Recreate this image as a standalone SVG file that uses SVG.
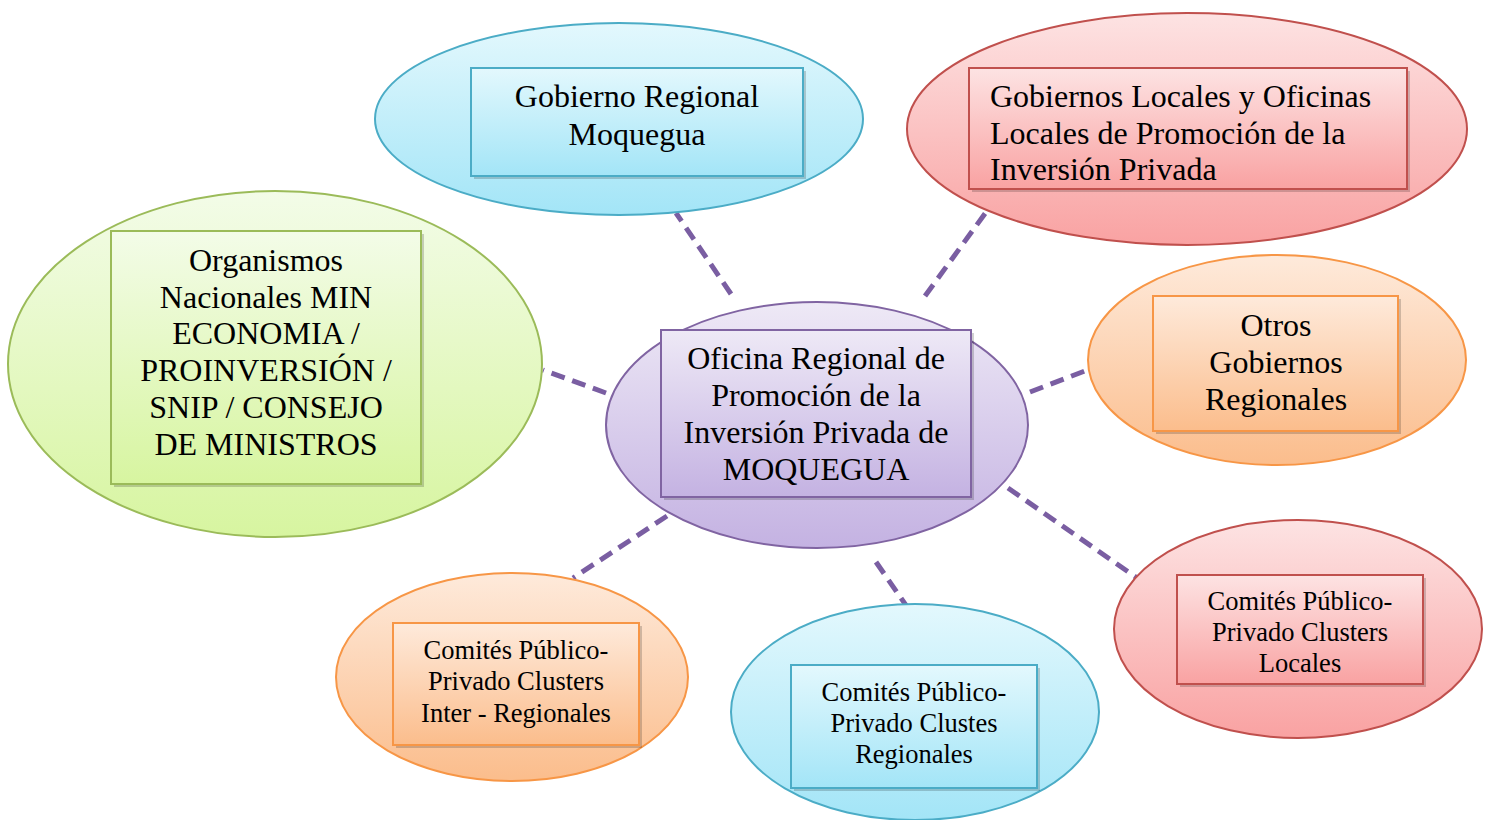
<svg xmlns="http://www.w3.org/2000/svg" width="1491" height="820" viewBox="0 0 1491 820">
<defs>
<linearGradient id="gBlue" x1="0" y1="0" x2="0" y2="1"><stop offset="0" stop-color="#e3f8fd"/><stop offset="1" stop-color="#a3e5f7"/></linearGradient>
<linearGradient id="gRed" x1="0" y1="0" x2="0" y2="1"><stop offset="0" stop-color="#fde3e3"/><stop offset="1" stop-color="#f9a2a2"/></linearGradient>
<linearGradient id="gGreen" x1="0" y1="0" x2="0" y2="1"><stop offset="0" stop-color="#f3fce8"/><stop offset="1" stop-color="#d7f5a0"/></linearGradient>
<linearGradient id="gOrange" x1="0" y1="0" x2="0" y2="1"><stop offset="0" stop-color="#feeadb"/><stop offset="1" stop-color="#fbbd8c"/></linearGradient>
<linearGradient id="gPurple" x1="0" y1="0" x2="0" y2="1"><stop offset="0" stop-color="#eee9f6"/><stop offset="1" stop-color="#c4b2e2"/></linearGradient>
</defs>
<style>
.e{stroke-width:2}
.r{stroke-width:2}
.sh{fill:#000;opacity:0.18}
.blue{fill:url(#gBlue);stroke:#4bacc6}
.red{fill:url(#gRed);stroke:#c0504d}
.green{fill:url(#gGreen);stroke:#9bbb59}
.orange{fill:url(#gOrange);stroke:#f79646}
.purple{fill:url(#gPurple);stroke:#8064a2}
text{font-family:"Liberation Serif","Times New Roman",serif;fill:#000}
.t31{font-size:32px;text-anchor:middle}
.t31l{font-size:32px}
.t26{font-size:26.5px;text-anchor:middle}
.c{stroke:#7a5ea2;stroke-width:5;stroke-dasharray:14 8;fill:none}
</style>

<g id="connectors">
<line class="c" x1="731" y1="294" x2="676" y2="213"/>
<line class="c" x1="925" y1="296" x2="992" y2="204"/>
<line class="c" x1="606" y1="393" x2="543" y2="370"/>
<line class="c" x1="1030" y1="392" x2="1090" y2="369"/>
<line class="c" x1="1008" y1="488" x2="1137" y2="578"/>
<line class="c" x1="876" y1="562" x2="912" y2="614"/>
<line class="c" x1="667" y1="516" x2="573" y2="578"/>
</g>

<g id="gobierno-regional">
<ellipse class="e blue" cx="619" cy="119" rx="244" ry="96"/>
<rect class="sh" x="474" y="71" width="332" height="108"/>
<rect class="r blue" x="471" y="68" width="332" height="108"/>
<text class="t31" x="637" y="107">Gobierno Regional</text>
<text class="t31" x="637" y="145">Moquegua</text>
</g>

<g id="gobiernos-locales">
<ellipse class="e red" cx="1187" cy="129" rx="280" ry="116"/>
<rect class="sh" x="972" y="71" width="438" height="121"/>
<rect class="r red" x="969" y="68" width="438" height="121"/>
<text class="t31l" x="990" y="107">Gobiernos Locales y Oficinas</text>
<text class="t31l" x="990" y="144">Locales de Promoción de la</text>
<text class="t31l" x="990" y="180">Inversión Privada</text>
</g>

<g id="organismos-nacionales">
<ellipse class="e green" cx="275" cy="364" rx="267" ry="173"/>
<rect class="sh" x="114" y="234" width="310" height="253"/>
<rect class="r green" x="111" y="231" width="310" height="253"/>
<text class="t31" x="266" y="271">Organismos</text>
<text class="t31" x="266" y="308">Nacionales MIN</text>
<text class="t31" x="266" y="344">ECONOMIA /</text>
<text class="t31" x="266" y="381">PROINVERSIÓN /</text>
<text class="t31" x="266" y="418">SNIP / CONSEJO</text>
<text class="t31" x="266" y="455">DE MINISTROS</text>
</g>

<g id="oficina-regional">
<ellipse class="e purple" cx="817" cy="425" rx="211" ry="123"/>
<rect class="sh" x="664" y="333" width="310" height="167"/>
<rect class="r purple" x="661" y="330" width="310" height="167"/>
<text class="t31" x="816" y="369">Oficina Regional de</text>
<text class="t31" x="816" y="406">Promoción de la</text>
<text class="t31" x="816" y="443">Inversión Privada de</text>
<text class="t31" x="816" y="480">MOQUEGUA</text>
</g>

<g id="otros-gobiernos">
<ellipse class="e orange" cx="1277" cy="360" rx="189" ry="105"/>
<rect class="sh" x="1156" y="299" width="245" height="135"/>
<rect class="r orange" x="1153" y="296" width="245" height="135"/>
<text class="t31" x="1276" y="336">Otros</text>
<text class="t31" x="1276" y="373">Gobiernos</text>
<text class="t31" x="1276" y="410">Regionales</text>
</g>

<g id="comites-inter-regionales">
<ellipse class="e orange" cx="512" cy="677" rx="176" ry="104"/>
<rect class="sh" x="396" y="626" width="246" height="122"/>
<rect class="r orange" x="393" y="623" width="246" height="122"/>
<text class="t26" x="516" y="659">Comités Público-</text>
<text class="t26" x="516" y="690">Privado Clusters</text>
<text class="t26" x="516" y="722">Inter - Regionales</text>
</g>

<g id="comites-regionales">
<ellipse class="e blue" cx="915" cy="712" rx="184" ry="108"/>
<rect class="sh" x="794" y="668" width="246" height="123"/>
<rect class="r blue" x="791" y="665" width="246" height="123"/>
<text class="t26" x="914" y="701">Comités Público-</text>
<text class="t26" x="914" y="732">Privado Clustes</text>
<text class="t26" x="914" y="763">Regionales</text>
</g>

<g id="comites-locales">
<ellipse class="e red" cx="1298" cy="629" rx="184" ry="109"/>
<rect class="sh" x="1180" y="578" width="246" height="109"/>
<rect class="r red" x="1177" y="575" width="246" height="109"/>
<text class="t26" x="1300" y="610">Comités Público-</text>
<text class="t26" x="1300" y="641">Privado Clusters</text>
<text class="t26" x="1300" y="672">Locales</text>
</g>
</svg>
